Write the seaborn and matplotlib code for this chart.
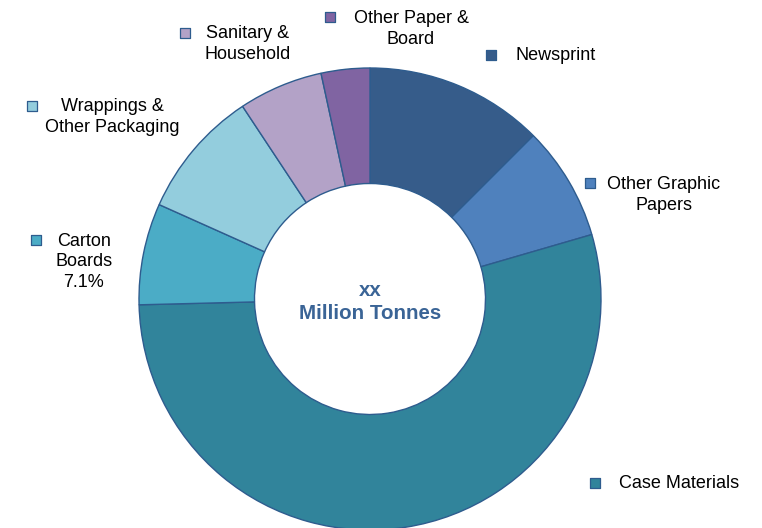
import matplotlib
matplotlib.use("Agg")
import matplotlib.pyplot as plt
import seaborn as sns

# Share of production by grade (%), clockwise from 12 o'clock
grades = ["Newsprint", "Other Graphic Papers", "Case Materials", "Carton Boards",
          "Wrappings & Other Packaging", "Sanitary & Household", "Other Paper & Board"]
shares = [12.5, 8.0, 54.1, 7.1, 9.0, 5.9, 3.4]
colors = ["#365C8A", "#4F81BD", "#31849B", "#4BACC6", "#93CDDD", "#B3A2C7", "#8064A2"]

# legend-style labels drawn next to the ring (text, marker x/y, text x/y in pixels)
label_text = ["Newsprint", "Other Graphic\nPapers", "Case Materials", "Carton\nBoards\n7.1%",
              "Wrappings &\nOther Packaging", "Sanitary &\nHousehold", "Other Paper &\nBoard"]
label_pos = [((491, 55), (556, 55)),
             ((590, 183), (664, 195)),
             ((595, 483), (679, 483)),
             ((36, 240), (84, 262)),
             ((32, 106), (112, 117)),
             ((185, 33), (248, 44)),
             ((330, 17), (411, 29))]

sns.set_style("white")
plt.rcParams["font.family"] = ["Liberation Sans", "DejaVu Sans"]

W, H = 762, 528
fig = plt.figure(figsize=(W / 100, H / 100), dpi=100)
ax = fig.add_axes([0, 0, 1, 1])

cx, cy, r = 370, H - 299, 231
ax.pie(shares, colors=colors, startangle=90, counterclock=False,
       center=(cx, cy), radius=r, frame=True,
       wedgeprops=dict(width=r * 0.5, edgecolor="#2E5C8E", linewidth=1.0))
ax.set_xlim(0, W)
ax.set_ylim(0, H)
ax.set_aspect("equal")
ax.axis("off")

for txt, (mk, tp), col in zip(label_text, label_pos, colors):
    ax.scatter([mk[0]], [H - mk[1]], marker="s", s=60, color=col,
               edgecolor="#2E5C8E", linewidth=0.9, zorder=5, clip_on=False)
    ax.text(tp[0], H - tp[1], txt, ha="center", va="center", multialignment="center",
            fontsize=13, color="#000000", linespacing=1.3)

ax.text(cx, H - 302, "xx\nMillion Tonnes", ha="center", va="center",
        multialignment="center", fontsize=14.8, fontweight="bold",
        color="#3A6496", linespacing=1.22)

fig.savefig("out.png", dpi=100)
